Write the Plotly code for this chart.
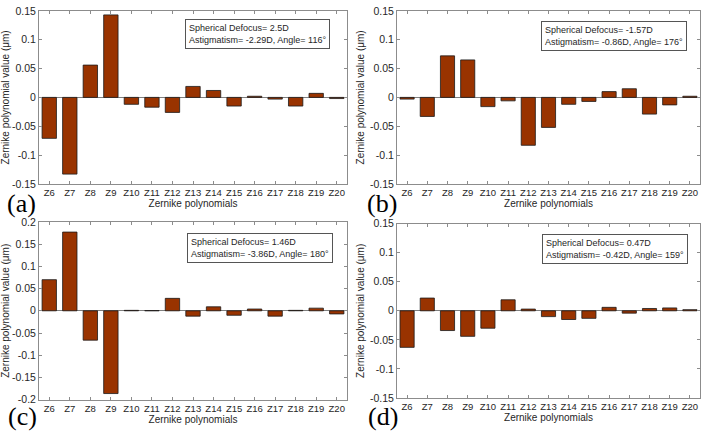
import plotly.graph_objects as go

zernike = ['Z6', 'Z7', 'Z8', 'Z9', 'Z10', 'Z11', 'Z12', 'Z13', 'Z14', 'Z15', 'Z16', 'Z17', 'Z18', 'Z19', 'Z20']

values_a = [-0.071, -0.133, 0.056, 0.143, -0.012, -0.017, -0.026, 0.019, 0.012, -0.015, 0.002, -0.003, -0.015, 0.007, -0.002]
values_b = [-0.003, -0.033, 0.072, 0.065, -0.016, -0.006, -0.083, -0.052, -0.012, -0.007, 0.010, 0.015, -0.029, -0.013, 0.002]
values_c = [0.070, 0.177, -0.066, -0.186, 0.001, 0.0005, 0.028, -0.012, 0.009, -0.010, 0.004, -0.012, 0.001, 0.006, -0.007]
values_d = [-0.063, 0.022, -0.034, -0.044, -0.030, 0.019, 0.003, -0.010, -0.015, -0.013, 0.006, -0.004, 0.004, 0.005, 0.002]

yticks_15 = [-0.15, -0.1, -0.05, 0, 0.05, 0.1, 0.15]
yticklabels_15 = ['-0.15', '-0.1', '-0.05', '0', '0.05', '0.1', '0.15']
yticks_20 = [-0.2, -0.15, -0.1, -0.05, 0, 0.05, 0.1, 0.15, 0.2]
yticklabels_20 = ['-0.2', '-0.15', '-0.1', '-0.05', '0', '0.05', '0.1', '0.15', '0.2']

info = [
    "Spherical Defocus= 2.5D<br>Astigmatism= -2.29D, Angle= 116°",
    "Spherical Defocus= -1.57D<br>Astigmatism= -0.86D, Angle= 176°",
    "Spherical Defocus= 1.46D<br>Astigmatism= -3.86D, Angle= 180°",
    "Spherical Defocus= 0.47D<br>Astigmatism= -0.42D, Angle= 159°",
]
panel_labels = ['(a)', '(b)', '(c)', '(d)']

W, H = 704, 433
# plot boxes in pixels: left, right, top, bottom
boxes = [(39, 347, 5, 183), (397, 700, 5, 183), (39, 347, 222, 405), (397, 700, 224, 403)]
info_pos = [(185, 13), (541, 15), (187, 233), (542, 234)]   # top-left of text boxes
label_pos = [(5, 203), (365, 203), (6, 422), (366, 422)]    # panel letters
all_values = [values_a, values_b, values_c, values_d]
yranges = [(-0.15, 0.15), (-0.15, 0.15), (-0.2, 0.2), (-0.15, 0.15)]
ytick_sets = [(yticks_15, yticklabels_15), (yticks_15, yticklabels_15),
              (yticks_20, yticklabels_20), (yticks_15, yticklabels_15)]

axis_color = '#8c8c8c'
text_color = '#262626'
bar_color = '#993300'

fig = go.Figure()
layout = {}
annotations = []

for i, (vals, box) in enumerate(zip(all_values, boxes)):
    n = '' if i == 0 else str(i + 1)
    l, r, t, b = box
    fig.add_trace(go.Bar(
        x=list(range(len(zernike))), y=vals,
        marker=dict(color=bar_color, line=dict(color='#1a1a1a', width=0.8)),
        width=0.7, xaxis='x' + n, yaxis='y' + n, showlegend=False,
    ))
    layout['xaxis' + n] = dict(
        domain=[l / W, r / W], anchor='y' + n,
        range=[-0.5, 14.5], tickvals=list(range(len(zernike))), ticktext=zernike,
        tickangle=0,
        ticks='inside', ticklen=3, tickcolor=axis_color,
        showline=True, linecolor=axis_color, linewidth=1, mirror='ticks',
        showgrid=False, zeroline=False,
        tickfont=dict(family='Arial', size=9.5, color=text_color),
        title=dict(text='Zernike polynomials', standoff=1,
                   font=dict(family='Arial', size=10, color=text_color)),
    )
    yt, ytl = ytick_sets[i]
    layout['yaxis' + n] = dict(
        domain=[1 - b / H, 1 - t / H], anchor='x' + n,
        range=list(yranges[i]), tickvals=yt, ticktext=ytl,
        ticks='inside', ticklen=3, tickcolor=axis_color,
        showline=True, linecolor=axis_color, linewidth=1, mirror='ticks',
        showgrid=False, zeroline=True, zerolinecolor='#7f7f7f', zerolinewidth=1,
        tickfont=dict(family='Arial', size=10.5, color=text_color),
        title=dict(text='Zernike polynomial value (μm)', standoff=3,
                   font=dict(family='Arial', size=10, color=text_color)),
    )
    ix, iy = info_pos[i]
    annotations.append(dict(
        text=info[i], xref='paper', yref='paper',
        x=ix / W, y=1 - iy / H, xanchor='left', yanchor='top', align='left',
        showarrow=False, bgcolor='white', bordercolor='#555555', borderwidth=1,
        borderpad=3, font=dict(family='Arial', size=9, color=text_color),
    ))
    lx, ly = label_pos[i]
    annotations.append(dict(
        text=panel_labels[i], xref='paper', yref='paper',
        x=lx / W, y=1 - ly / H, xanchor='left', yanchor='middle',
        showarrow=False, font=dict(family='Liberation Serif', size=26, color='black'),
    ))

fig.update_layout(
    width=W, height=H,
    margin=dict(l=0, r=0, t=0, b=0),
    plot_bgcolor='white', paper_bgcolor='white',
    annotations=annotations,
    bargap=0.3,
    **layout,
)

# drop the default 8px body margin so the figure sits at the window's corner
fig.write_html("out.html", config={'displayModeBar': False},
               post_script="document.body.style.margin='0px';")
